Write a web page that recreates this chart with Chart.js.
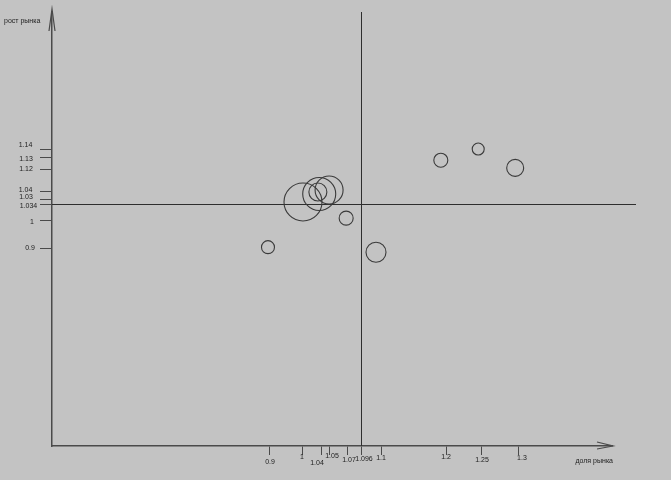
<!DOCTYPE html>
<html>
<head>
<meta charset="utf-8">
<script src="https://cdn.jsdelivr.net/npm/chart.js@4/dist/chart.umd.min.js"></script>
<style>
  html, body { margin:0; padding:0; background:#c3c3c3; }
  #wrap { width:671px; height:480px; position:relative; }
</style>
</head>
<body>
<div id="wrap"><canvas id="c" width="671" height="480"></canvas></div>
<script>
// ---- data ----
const xTickLabels = ['0.9','1','1.04','1.05','1.07','1.096','1.1','1.2','1.25','1.3'];
const yTickLabels = ['0.9','1','1.034','1.03','1.04','1.12','1.13','1.14'];
const marketShare  = [0.897, 1.0,   1.036, 1.033, 1.049, 1.069, 1.099, 1.192, 1.246, 1.295];
const marketGrowth = [0.903, 1.035, 1.039, 1.040, 1.047, 1.004, 0.885, 1.128, 1.14,  1.121];
const salesVolume  = [6.5,   19,    16.5,  9,     14,    7,     10,    7,     6,     8.5];
const avgShare = 1.096;
const avgGrowth = 1.034;
const xTitle = 'доля рынка';
const yTitle = 'рост рынка';

// ---- axis layout (hand-drawn original: uneven tick spacing and label placement) ----
const xTickFrac = [0.3875,0.4482,0.4804,0.4964,0.5268,0.5518,0.5875,0.7036,0.7661,0.8339];
const yTickFrac = [0.4562,0.5207,0.5576,0.5691,0.5853,0.6382,0.6636,0.6843];
const xLabelDx  = [1, -1, -4, 2, 2, 3, 0, 0, 1, 3];
const xLabelDy  = [16, 11, 17, 10, 14, 13, 12, 11, 14, 12];
const yLabelCx  = [30, 32, 28.5, 26, 25.5, 26, 26, 25.5];
const yLabelDy  = [0, 2, 2, -2, -2, 0, 1, -4];

const BG = '#c3c3c3';
const INK = '#3a3a3a';
const AXIS = '#4a4a4a';
const TEXT = '#222';
const FONT = '"Liberation Sans", Arial, sans-serif';

// piecewise-anchored scale (keeps the original's uneven tick spacing)
class AnchoredScale extends Chart.LinearScale {
  _anchors() {
    const o = this.options;
    const pts = o.anchorLabels.map((l,i)=>[parseFloat(l), o.anchorFracs[i]]).sort((a,b)=>a[0]-b[0]);
    return pts.filter((p,i)=> i===pts.length-1 || p[1] < pts[i+1][1]);
  }
  _fracOf(v) {
    const a = this._anchors();
    let i = 0;
    if (v <= a[0][0]) i = 0;
    else if (v >= a[a.length-1][0]) i = a.length-2;
    else { while (i < a.length-2 && v > a[i+1][0]) i++; }
    const [v0,f0] = a[i], [v1,f1] = a[i+1];
    return f0 + (v - v0) / (v1 - v0) * (f1 - f0);
  }
  buildTicks() {
    const o = this.options;
    return o.anchorLabels.map((l,i)=>({ value: parseFloat(l), text: l, frac: o.anchorFracs[i] }));
  }
  getPadding() { return { left: 0, top: 0, right: 0, bottom: 0 }; }
  getPixelForValue(v) { return this.getPixelForDecimal(this._fracOf(v)); }
  getPixelForTick(i) { const t = this.ticks[i]; return t ? this.getPixelForDecimal(t.frac) : NaN; }
  getValueForPixel(p) {
    const d = this.getDecimalForPixel(p);
    const a = this._anchors();
    let i = 0;
    while (i < a.length-2 && d > a[i+1][1]) i++;
    const [v0,f0] = a[i], [v1,f1] = a[i+1];
    return v0 + (d - f0) / (f1 - f0) * (v1 - v0);
  }
}
AnchoredScale.id = 'anchored';
AnchoredScale.defaults = { ticks: { callback: function(v, i, t){ return t[i].text; } } };
Chart.register(AnchoredScale);

const decor = {
  id: 'decor',
  beforeDraw(c) {
    const ctx = c.ctx;
    ctx.save();
    ctx.fillStyle = BG;
    ctx.fillRect(0, 0, c.width, c.height);
    ctx.restore();
  },
  beforeDatasetsDraw(c) {
    const ctx = c.ctx, a = c.chartArea;
    const xs = c.scales.x, ys = c.scales.y;
    const px = Math.round(xs.getPixelForValue(avgShare)) + 0.5;
    const py = Math.round(ys.getPixelForValue(avgGrowth)) + 0.5;
    ctx.save();
    ctx.strokeStyle = '#2e2e2e';
    ctx.lineWidth = 1;
    ctx.beginPath();
    ctx.moveTo(px, a.top); ctx.lineTo(px, a.bottom);
    ctx.moveTo(a.left, py); ctx.lineTo(a.right + 24, py);
    ctx.stroke();
    ctx.restore();
  },
  afterDraw(c) {
    const ctx = c.ctx, a = c.chartArea;
    const xs = c.scales.x, ys = c.scales.y;
    ctx.save();
    ctx.strokeStyle = AXIS;
    ctx.lineWidth = 1.2;
    ctx.beginPath();
    // y axis extension + arrow
    ctx.moveTo(a.left, a.top); ctx.lineTo(a.left, a.top - 3);
    ctx.moveTo(a.left - 3, a.top + 19); ctx.lineTo(a.left, a.top - 3); ctx.lineTo(a.left + 3, a.top + 19);
    // x axis arrow
    ctx.moveTo(a.right - 15, a.bottom - 4); ctx.lineTo(a.right + 1, a.bottom); ctx.lineTo(a.right - 15, a.bottom + 3);
    ctx.stroke();

    ctx.fillStyle = TEXT;
    ctx.font = '7px ' + FONT;
    ctx.textBaseline = 'middle';
    // tick labels (placed by hand in the original, slightly staggered)
    ctx.textAlign = 'center';
    xs.ticks.forEach((t, i) => {
      ctx.fillText(t.text, xs.getPixelForTick(i) + xLabelDx[i], a.bottom + xLabelDy[i]);
    });
    ys.ticks.forEach((t, i) => {
      ctx.fillText(t.text, yLabelCx[i], ys.getPixelForTick(i) + yLabelDy[i]);
    });
    // axis titles
    ctx.textAlign = 'left';
    ctx.fillText(yTitle, 4, 21);
    ctx.textAlign = 'right';
    ctx.fillText(xTitle, a.right + 1, 461);
    ctx.restore();
  }
};

new Chart(document.getElementById('c'), {
  type: 'bubble',
  data: {
    datasets: [{
      data: marketShare.map((x, i) => ({ x: x, y: marketGrowth[i], r: salesVolume[i] })),
      backgroundColor: 'rgba(0,0,0,0)',
      borderColor: INK,
      borderWidth: 1.1,
      hoverRadius: 0
    }]
  },
  options: {
    responsive: false,
    animation: false,
    events: [],
    layout: { autoPadding: false, padding: { top: 12, right: 59, left: 0, bottom: 0 } },
    plugins: { legend: { display: false }, tooltip: { enabled: false } },
    scales: {
      x: {
        type: 'anchored',
        position: 'bottom',
        anchorLabels: xTickLabels,
        anchorFracs: xTickFrac,
        afterFit: s => { s.height = 34; },
        border: { display: true, color: AXIS, width: 1.5 },
        grid: { drawOnChartArea: false, drawTicks: true, tickLength: 9, color: AXIS, lineWidth: 1 },
        ticks: { display: false, autoSkip: false, maxRotation: 0, minRotation: 0,
                 callback: (v, i, t) => t[i].text }
      },
      y: {
        type: 'anchored',
        position: 'left',
        anchorLabels: yTickLabels,
        anchorFracs: yTickFrac,
        afterFit: s => { s.width = 52; },
        border: { display: true, color: AXIS, width: 1.5 },
        grid: { drawOnChartArea: false, drawTicks: true, tickLength: 12, color: AXIS, lineWidth: 1 },
        ticks: { display: false, autoSkip: false,
                 callback: (v, i, t) => t[i].text }
      }
    }
  },
  plugins: [decor]
});
</script>
</body>
</html>
